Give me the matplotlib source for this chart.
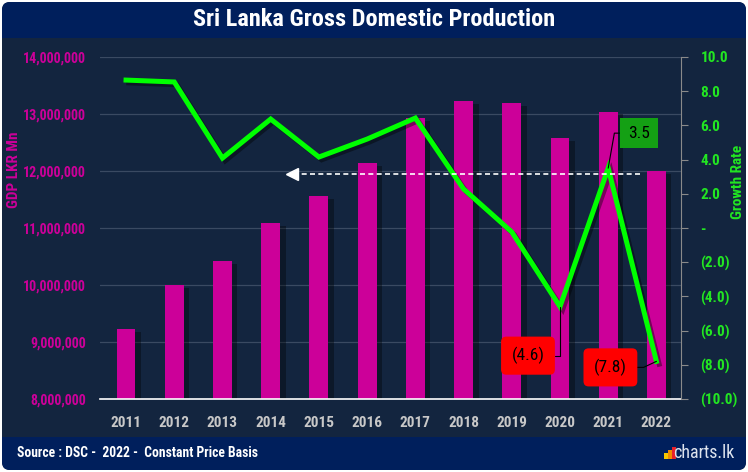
import matplotlib.pyplot as plt
import matplotlib.patheffects as pe
from matplotlib.patches import FancyBboxPatch, Rectangle
from matplotlib.transforms import IdentityTransform
from matplotlib.ticker import FuncFormatter

# chart data
years = ['2011', '2012', '2013', '2014', '2015', '2016',
         '2017', '2018', '2019', '2020', '2021', '2022']
gdp = [9230000, 10000000, 10420000, 11090000, 11560000, 12140000,
       12930000, 13230000, 13190000, 12580000, 13040000, 12000000]
growth = [8.65, 8.54, 4.09, 6.37, 4.15, 5.2, 6.43, 2.28, -0.23, -4.6, 3.5, -7.8]

# labelled points: (index, text, box colour, box style, offset in pixels, connector angle)
callouts = [(10, '3.5', '#14a014', 'square,pad=0.45', (31, 35), 80),
            (9, '(4.6)', '#ff0000', 'round,pad=0.6,rounding_size=0.3', (-32, -49), 90),
            (11, '(7.8)', '#ff0000', 'round,pad=0.6,rounding_size=0.3', (-46, -6), 25)]

# dashed reference arrow on the growth axis
ref_level = 3.16
ref_from, ref_to = 10.66, 3.45

PANEL = '#13253f'
BANNER = '#001f5c'
MAGENTA = '#cc0099'
GREEN = '#00ff00'
FONT = ['Roboto Condensed', 'Liberation Sans Narrow', 'DejaVu Sans Condensed', 'DejaVu Sans']
plt.rcParams['font.family'] = FONT
plt.rcParams['font.weight'] = 'bold'

fig = plt.figure(figsize=(7.48, 4.72), dpi=100)
fig.patch.set_facecolor('white')
px = IdentityTransform()

# card background, title banner and footer banner
fig.patches.append(FancyBboxPatch((2, 2), 744, 468, boxstyle='round,pad=0,rounding_size=8',
                                  transform=px, fc=PANEL, ec='none', zorder=0))
fig.patches.append(FancyBboxPatch((2, 434), 744, 36, boxstyle='round,pad=0,rounding_size=8',
                                  transform=px, fc=BANNER, ec='none', zorder=1))
fig.patches.append(Rectangle((2, 434), 744, 16, transform=px, fc=BANNER, ec='none', zorder=1))
fig.patches.append(FancyBboxPatch((2, 2), 744, 33, boxstyle='round,pad=0,rounding_size=8',
                                  transform=px, fc=BANNER, ec='none', zorder=1))
fig.patches.append(Rectangle((2, 20), 744, 15, transform=px, fc=BANNER, ec='none', zorder=1))

fig.text(0.5, 1 - 20 / 472, 'Sri Lanka Gross Domestic Production', color='white',
         fontsize=17.5, ha='center', va='center')
fig.text(17 / 748, 19 / 472, 'Source : DSC -  2022 -  Constant Price Basis', color='white',
         fontsize=9.8, ha='left', va='center')
fig.text(734 / 748, 19 / 472, 'charts.lk', color='#dde3ee', fontsize=13,
         ha='right', va='center', weight='normal')
# little logo bars
for x0, h, c in [(664, 6, '#f7c600'), (668, 9, '#f08a00'), (672, 12, '#e8202a')]:
    fig.patches.append(Rectangle((x0, 13), 3.5, h, transform=px, fc=c, ec='none', zorder=2))

ax = fig.add_axes([100 / 748, 73 / 472, 581 / 748, 342 / 472])
ax.set_facecolor('none')
ax.set_zorder(3)
x = list(range(len(years)))

ax.bar(x, gdp, width=0.39, color=MAGENTA, zorder=2,
       path_effects=[pe.SimplePatchShadow(offset=(4, -2), shadow_rgbFace='black', alpha=0.35),
                     pe.Normal()])
ax.set_xlim(-0.54, 11.51)
ax.set_ylim(8000000, 14000000)
ax.set_yticks(range(8000000, 14000001, 1000000))
ax.yaxis.set_major_formatter(FuncFormatter(lambda v, p: f'{v:,.0f}'))
ax.set_xticks(x)
ax.set_xticklabels(years)
ax.grid(axis='y', color='#3a4a62', lw=0.9)
ax.set_axisbelow(True)
ax.tick_params(axis='y', length=0, labelcolor=MAGENTA, labelsize=10, pad=10)
ax.tick_params(axis='x', length=0, labelcolor='#c8c8c8', labelsize=11, pad=12)
for s in ['top', 'left', 'right']:
    ax.spines[s].set_visible(False)
ax.spines['bottom'].set_color('white')
ax.spines['bottom'].set_linewidth(1.2)

ax2 = ax.twinx()
ax2.set_zorder(4)
ax2.set_ylim(-10, 10)
ax2.set_yticks(range(-10, 11, 2))


def rate_fmt(v, p):
    if abs(v) < 1e-9:
        return '-'
    if v < 0:
        return f'({-v:.1f})'
    return f'{v:.1f}'


ax2.yaxis.set_major_formatter(FuncFormatter(rate_fmt))
ax2.tick_params(axis='y', length=5, color='#8a8a8a', labelcolor='#22e622', labelsize=11, pad=9)
for s in ['top', 'left', 'bottom']:
    ax2.spines[s].set_visible(False)
ax2.spines['right'].set_color('#8a8a8a')

ax2.plot(x, growth, color=GREEN, lw=3.6, solid_joinstyle='miter', zorder=3,
         path_effects=[pe.SimpleLineShadow(offset=(2, -2), shadow_color='black', alpha=0.4),
                       pe.Normal()])

ax2.plot([ref_from, ref_to], [ref_level, ref_level], color='white', lw=1.2,
         dashes=(3, 2), zorder=4)
ax2.plot(ref_to, ref_level, marker='<', ms=9, color='white', zorder=4)

for i, txt, col, style, off, ang in callouts:
    ax2.annotate(txt, xy=(x[i], growth[i]), xytext=off, textcoords='offset pixels',
                 ha='center', va='center', fontsize=12.5, color='black', weight='normal',
                 bbox=dict(boxstyle=style, fc=col, ec='none'),
                 arrowprops=dict(arrowstyle='-', color='black', lw=0.8, shrinkA=0, shrinkB=0,
                                 connectionstyle=f'angle,angleA=0,angleB={ang},rad=0'),
                 zorder=5)

fig.text(14 / 748, 1 - 170 / 472, 'GDP LKR Mn', color=MAGENTA, fontsize=11,
         rotation=90, ha='center', va='center')
fig.text(738 / 748, 1 - 182 / 472, 'Growth Rate', color='#22e622', fontsize=11,
         rotation=90, ha='center', va='center')

fig.savefig('out.png', dpi=100, facecolor=fig.get_facecolor())
